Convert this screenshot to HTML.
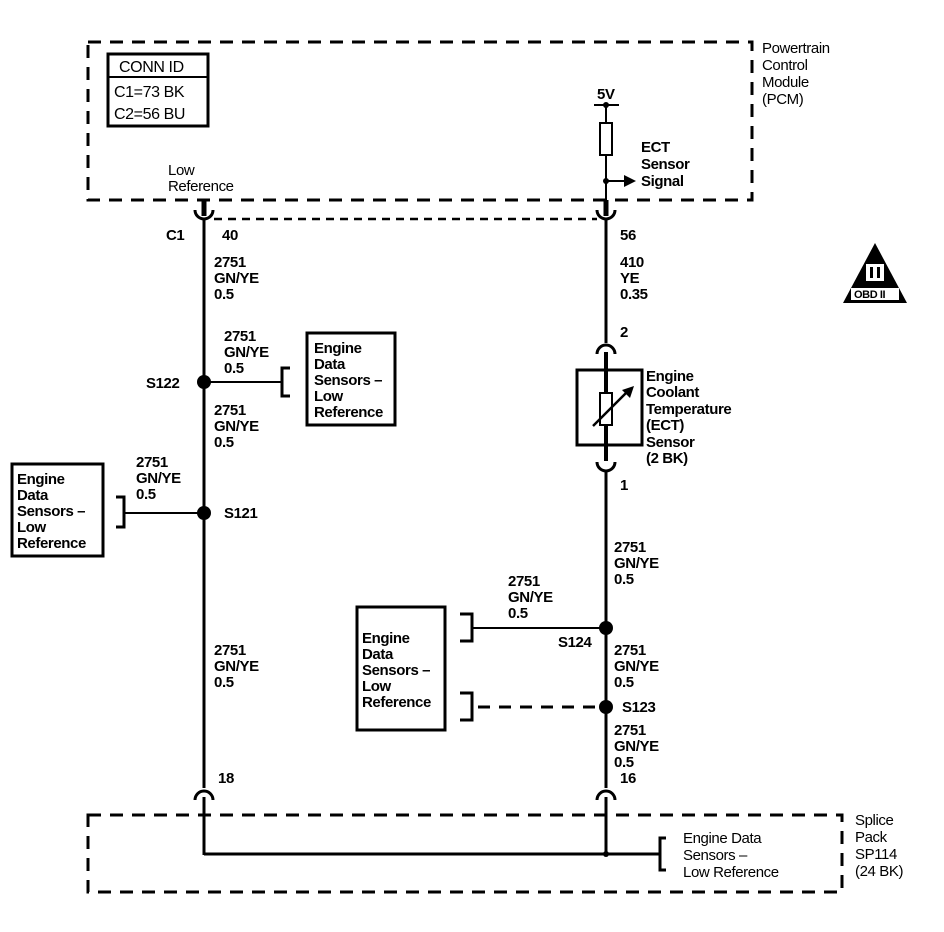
<!DOCTYPE html>
<html><head><meta charset="utf-8"><style>
html,body{margin:0;padding:0;background:#fff}
svg{display:block}
text{font-family:"Liberation Sans",Arial,sans-serif;font-size:15px;font-weight:bold;letter-spacing:-0.4px;fill:#000}
</style></head><body>
<svg width="944" height="932" viewBox="0 0 944 932" xmlns="http://www.w3.org/2000/svg">
<g fill="none" stroke="#000">
<rect x="88" y="42" width="664" height="158" stroke-width="3" stroke-dasharray="13,9"/>
<rect x="88" y="815" width="754" height="77" stroke-width="3" stroke-dasharray="13,9"/>
<rect x="108" y="54" width="100" height="72" stroke-width="3"/>
<line x1="108" y1="77" x2="208" y2="77" stroke-width="2"/>
<line x1="214" y1="219" x2="597" y2="219" stroke-width="2.5" stroke-dasharray="8,6"/>
<line x1="204" y1="200" x2="204" y2="216" stroke-width="5"/>
<path d="M195,210 A9,9 0 0 0 213,210" stroke-width="3"/>
<line x1="204" y1="219" x2="204" y2="788" stroke-width="3"/>
<path d="M195,800 A9,9 0 0 1 213,800" stroke-width="3"/>
<line x1="204" y1="797" x2="204" y2="855" stroke-width="3"/>
<line x1="204" y1="854" x2="660" y2="854" stroke-width="3"/>
<path d="M666,838 H660 V870 H666" stroke-width="3"/>
<line x1="594" y1="105" x2="619" y2="105" stroke-width="2"/>
<line x1="606" y1="105" x2="606" y2="123" stroke-width="2"/>
<rect x="600" y="123" width="12" height="32" stroke-width="2"/>
<line x1="606" y1="155" x2="606" y2="200" stroke-width="2"/>
<line x1="606" y1="181" x2="625" y2="181" stroke-width="2"/>
<line x1="606" y1="200" x2="606" y2="216" stroke-width="5"/>
<path d="M597,210 A9,9 0 0 0 615,210" stroke-width="3"/>
<line x1="606" y1="219" x2="606" y2="343" stroke-width="3"/>
<path d="M597,354 A9,9 0 0 1 615,354" stroke-width="3"/>
<line x1="606" y1="352" x2="606" y2="461" stroke-width="4"/>
<rect x="577" y="370" width="65" height="75" stroke-width="3"/>
<rect x="600" y="393" width="12" height="32" stroke-width="2" fill="#fff"/>
<line x1="593" y1="426" x2="628" y2="391" stroke-width="2.5"/>
<path d="M597,462 A9,9 0 0 0 615,462" stroke-width="3"/>
<line x1="606" y1="470" x2="606" y2="788" stroke-width="3"/>
<path d="M597,800 A9,9 0 0 1 615,800" stroke-width="3"/>
<line x1="606" y1="797" x2="606" y2="855" stroke-width="3"/>
<line x1="204" y1="382" x2="282" y2="382" stroke-width="2"/>
<path d="M290,368 H282 V396 H290" stroke-width="3"/>
<rect x="307" y="333" width="88" height="92" stroke-width="3"/>
<line x1="124" y1="513" x2="204" y2="513" stroke-width="2"/>
<path d="M116,497 H124 V527 H116" stroke-width="3"/>
<rect x="12" y="464" width="91" height="92" stroke-width="3"/>
<line x1="472" y1="628" x2="606" y2="628" stroke-width="2"/>
<path d="M460,614 H472 V641 H460" stroke-width="3"/>
<rect x="357" y="607" width="88" height="123" stroke-width="3"/>
<line x1="478" y1="707" x2="600" y2="707" stroke-width="3" stroke-dasharray="12,9"/>
<path d="M460,693 H472 V720 H460" stroke-width="3"/>
</g>
<g fill="#000">
<circle cx="606" cy="105" r="3"/>
<circle cx="606" cy="181" r="3"/>
<polygon points="624,175 636,181 624,187"/>
<polygon points="634,386 622,390 630,398"/>
<circle cx="204" cy="382" r="7"/>
<circle cx="204" cy="513" r="7"/>
<circle cx="606" cy="628" r="7"/>
<circle cx="606" cy="707" r="7"/>
<circle cx="606" cy="854" r="3"/>
<polygon points="875,243 843,303 907,303"/>
</g>
<rect x="866" y="264" width="18" height="17" fill="#fff"/>
<rect x="870" y="267" width="3" height="11" fill="#000"/>
<rect x="877" y="267" width="3" height="11" fill="#000"/>
<rect x="851" y="288" width="48" height="12" fill="#fff"/>
<text x="854" y="298" style="font-size:11px">OBD II</text>

<text x="119" y="72" style="font-size:16px;font-weight:normal">CONN ID</text>
<text x="114" y="97" style="font-size:16px;font-weight:normal">C1=73 BK</text>
<text x="114" y="119" style="font-size:16px;font-weight:normal">C2=56 BU</text>
<text x="168" y="175" style="font-weight:normal">Low</text><text x="168" y="191" style="font-weight:normal">Reference</text>
<text x="762" y="53" style="font-weight:normal">Powertrain</text><text x="762" y="70" style="font-weight:normal">Control</text><text x="762" y="87" style="font-weight:normal">Module</text><text x="762" y="104" style="font-weight:normal">(PCM)</text>
<text x="597" y="99">5V</text>
<text x="641" y="152">ECT</text><text x="641" y="169">Sensor</text><text x="641" y="186">Signal</text>
<text x="166" y="240">C1</text><text x="222" y="240">40</text>
<text x="620" y="240">56</text>
<text x="214" y="267">2751</text><text x="214" y="283">GN/YE</text><text x="214" y="299">0.5</text>
<text x="620" y="267">410</text><text x="620" y="283">YE</text><text x="620" y="299">0.35</text>
<text x="620" y="337">2</text>
<text x="224" y="341">2751</text><text x="224" y="357">GN/YE</text><text x="224" y="373">0.5</text>
<text x="314" y="353">Engine</text><text x="314" y="369">Data</text><text x="314" y="385">Sensors –</text><text x="314" y="401">Low</text><text x="314" y="417">Reference</text>
<text x="146" y="388">S122</text>
<text x="214" y="415">2751</text><text x="214" y="431">GN/YE</text><text x="214" y="447">0.5</text>
<text x="646" y="381">Engine</text><text x="646" y="397">Coolant</text><text x="646" y="414">Temperature</text><text x="646" y="430">(ECT)</text><text x="646" y="447">Sensor</text><text x="646" y="463">(2 BK)</text>
<text x="620" y="490">1</text>
<text x="136" y="467">2751</text><text x="136" y="483">GN/YE</text><text x="136" y="499">0.5</text>
<text x="17" y="484">Engine</text><text x="17" y="500">Data</text><text x="17" y="516">Sensors –</text><text x="17" y="532">Low</text><text x="17" y="548">Reference</text>
<text x="224" y="518">S121</text>
<text x="614" y="552">2751</text><text x="614" y="568">GN/YE</text><text x="614" y="584">0.5</text>
<text x="508" y="586">2751</text><text x="508" y="602">GN/YE</text><text x="508" y="618">0.5</text>
<text x="558" y="647">S124</text>
<text x="362" y="643">Engine</text><text x="362" y="659">Data</text><text x="362" y="675">Sensors –</text><text x="362" y="691">Low</text><text x="362" y="707">Reference</text>
<text x="214" y="655">2751</text><text x="214" y="671">GN/YE</text><text x="214" y="687">0.5</text>
<text x="614" y="655">2751</text><text x="614" y="671">GN/YE</text><text x="614" y="687">0.5</text>
<text x="622" y="712">S123</text>
<text x="614" y="735">2751</text><text x="614" y="751">GN/YE</text><text x="614" y="767">0.5</text>
<text x="218" y="783">18</text><text x="620" y="783">16</text>
<text x="683" y="843" style="font-weight:normal">Engine Data</text><text x="683" y="860" style="font-weight:normal">Sensors –</text><text x="683" y="877" style="font-weight:normal">Low Reference</text>
<text x="855" y="825" style="font-weight:normal">Splice</text><text x="855" y="842" style="font-weight:normal">Pack</text><text x="855" y="859" style="font-weight:normal">SP114</text><text x="855" y="876" style="font-weight:normal">(24 BK)</text>
</svg>
</body></html>
